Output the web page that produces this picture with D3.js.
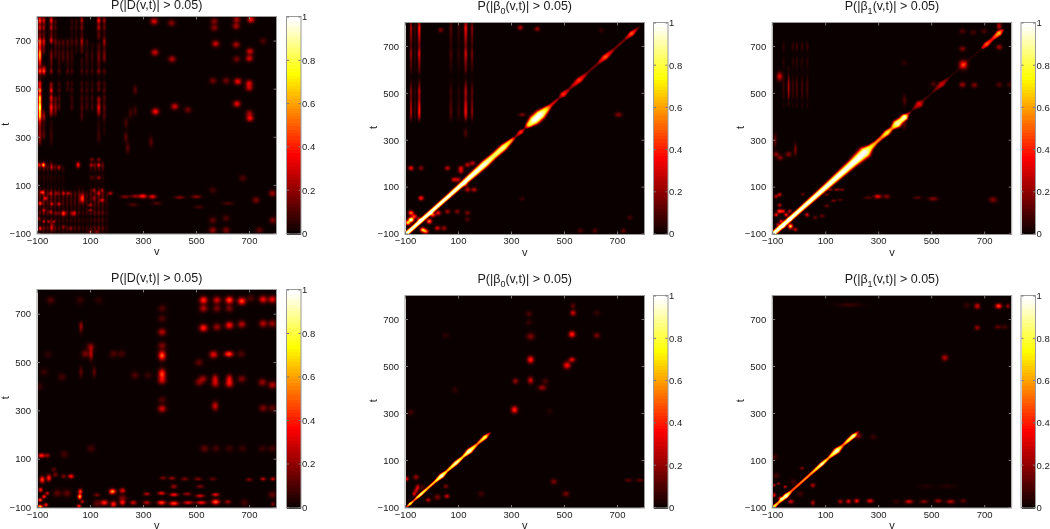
<!DOCTYPE html>
<html><head><meta charset="utf-8">
<script src="https://cdn.jsdelivr.net/npm/d3@7"></script>
<style>
html,body{margin:0;padding:0;background:#fff;overflow:hidden}
#wrap{position:relative;width:1050px;height:529px}
canvas{position:absolute}
svg{position:absolute;left:0;top:0}
text{font-family:"Liberation Sans",Arial,sans-serif;fill:#1a1a1a}
</style></head><body><div id="wrap"></div>
<script>
// Axis ticks
const axisTicks=[-100,100,300,500,700];
const barTicks=[0,0.2,0.4,0.6,0.8,1];

// Hot-spots: [v, t, probability, optional spreadV, optional spreadT]
const spotsD1=[
[-93,650,.35,4,25],[-93,430,.5,4,50],[-78,580,.3,6,12],
[-80,185,.6,5,6],[-97,185,.3,4,6],[-21,175,.25,5,6],[-47,175,.2,5,6],[52,185,.45,5,8],[104,208,.2,5,5],[130,208,.2,5,5],[104,185,.2,5,5],[130,185,.25,5,5],[130,132,.22,5,5],[104,132,.12,5,5],
[-84,71,.5,5,5],[-53,67,.2,5,5],[-28,67,.2,5,5],[-3,67,.25,5,5],[16,67,.25,5,5],[67,46,.5,6,12],[111,80,.22,5,5],[130,67,.25,5,5],[142,80,.2,5,5],[174,67,.3,6,5],[111,46,.2,5,5],[142,39,.3,6,5],
[-91,25,.45,5,5],[-72,46,.4,5,5],[-47,22,.25,5,5],[-21,22,.3,5,5],[-78,-3,.25,5,5],[-53,-10,.2,5,5],[-3,-17,.45,6,7],[35,-17,.35,6,7],[98,18,.25,6,4],[98,-3,.25,6,3],[-28,-17,.15,5,5],
[-97,-37,.2,4,5],[-78,-51,.25,4,4],[-59,-51,.25,4,4],[-40,-51,.25,4,4],[-91,-79,.35,4,5],[-47,-72,.25,5,12],[-3,-72,.15,5,5],[23,-79,.15,5,5],[98,-93,.2,5,5],[123,-93,.2,5,5],
[340,782,.38],[406,775,.22],[343,653,.35],[408,625,.3],[345,407,.45],[418,428,.35],[468,414,.18],[268,497,.15,5,12],
[568,782,.22],[573,689,.35],[568,755,.22],[653,789,.28],[651,762,.28],[651,685,.28],[653,625,.18],[707,789,.42],[703,657,.36],[701,628,.36],[657,532,.42],[563,535,.18],[613,535,.18],[654,439,.4],[700,525,.36],[700,505,.32],[703,379,.42],[701,400,.25],[753,700,.12],
[233,360,.12,5,14],[233,300,.15,5,14],[240,255,.15,5,14],[328,280,.15,5,14],[250,400,.1,5,14],[268,410,.1,5,14],
[230,53,.2,12,5],[268,55,.25,10,5],[297,55,.5,10,6],[334,53,.4,9,6],[437,50,.2,12,5],[500,53,.22,12,5],[350,25,.12,12,5],[260,20,.12,12,5],[510,10,.1,12,5],[620,25,.12,14,5],[726,39,.2],[788,67,.25],[562,-86,.25],[562,-45,.15],[613,-86,.2],[613,-37,.12],[739,-86,.15],[790,-45,.2],[562,80,.1],[676,130,.12]
];
const stripesD1=[
[-93,250,825,.5,4.5],[-78,640,825,.35,4],[-78,280,420,.3,4],[-78,540,600,.28,4],[-50,380,540,.42,4.5],[-50,680,825,.4,4.5],[-50,250,380,.2,4],[-50,540,680,.22,4],[-34,380,480,.22,4],[-34,620,800,.15,4],[-20,400,720,.12,4],[-5,600,720,.13,4],[12,480,720,.13,4],[28,400,800,.1,4],[45,640,800,.12,4],[66,640,825,.28,4],[66,350,640,.12,4],[85,400,720,.1,4],[105,400,700,.1,4],[130,700,825,.42,4.5],[130,380,480,.38,4.5],[130,480,700,.22,4.5],[130,260,380,.2,4.5],[151,600,825,.25,4],[151,300,600,.14,4],
[-93,-125,215,.14,3.5],[-78,-125,215,.18,3.5],[-64,-125,200,.13,3.5],[-50,-125,215,.18,3.5],[-35,-125,200,.14,3.5],[-20,-125,190,.12,3.5],[-5,-125,190,.12,3.5],[10,-125,90,.12,3.5],[25,-125,90,.12,3.5],[40,-125,90,.12,3.5],[55,-125,120,.12,3.5],[70,-125,120,.09,3.5],[85,-125,90,.09,3.5],[100,-125,215,.12,3.5],[115,-125,215,.15,3.5],[130,-125,215,.18,3.5],[145,-125,215,.16,3.5],[160,-125,85,.08,3.5]
];
const rowsD1=[[-100,.5],[-90,.6],[-78,1],[-60,.4],[-45,.8],[-30,.4],[-15,1],[0,.6],[15,.7],[30,.9],[45,.8],[60,1],[75,.9],[90,.4],[105,.3],[120,.4],[135,.5],[150,.3],[170,.8],[185,1],[200,.6],[220,.1],[250,.1],[265,.3],[285,.5],[305,.6],[325,.5],[345,.4],[365,.5],[385,.9],[405,.8],[425,1],[445,.7],[465,.9],[480,.5],[495,.95],[510,.6],[525,.8],[540,.25],[555,.3],[575,1],[590,.55],[610,.7],[630,.85],[650,.8],[670,.55],[690,.9],[700,1],[715,.6],[740,.45],[755,.8],[770,.6],[785,1],[800,.6]];

const spotsB1=[
[-81,181,.4],[-43,181,.2],[57,181,.3],[108,181,.35],[133,195,.3],[152,202,.3],[108,167,.3],[82,132,.35],[97,132,.3],[133,89,.3],[158,89,.3],[126,110,.25],[-43,53,.45],
[-81,-10,.6],[-81,-38,.5],[-50,-38,.35],[-93,-52,.8],[-81,-40,.7],[-69,-25,.5],
[-37,-82,.75],[-12,-46,.6],[1,-18,.55],[22,-10,.4],[-25,-89,.6],[19,-75,.35],[44,-75,.25],[57,-4,.25],[94,-4,.2],[133,-10,.2],[133,-38,.12],
[560,-86,.12],[616,-86,.12],[724,-86,.15],[749,-30,.1],[340,50,.08],[705,409,.2,9,7],[340,409,.2,8,5],[126,330,.12,5,12],[333,780,.3],[397,775,.25],[32,770,.2],[640,770,.08]
];
const stripesB1=[[-81,370,825,.28,3],[-50,370,825,.42,3.5],[-66,370,825,.07,3],[70,370,825,.12,4],[100,370,825,.07,4],[126,370,825,.4,4],[150,370,825,.22,3]];
const rowsB1=[[360,.1],[380,.5],[400,.8],[420,1],[450,.9],[480,.7],[510,.8],[540,.5],[570,.15],[600,.5],[640,.7],[670,.9],[700,.6],[740,.8],[780,1],[800,.7]];
const ridgeB1=[[-100,1,8],[-60,1,8],[0,1,8],[50,1,8],[100,1,9],[150,1,11],[200,.98,13],[230,.85,11],[270,.9,12],[300,.6,7],[315,.15,4],[335,.45,8],[350,.1,4],[365,.75,11],[385,1,18],[410,1,18],[430,.75,12],[450,.35,6],[470,.25,5],[480,.12,4],[495,.45,10],[520,.15,5],[556,.45,10],[590,.12,5],[625,.15,5],[655,.5,10],[690,.15,5],[730,.15,5],[755,.5,9],[780,.1,4],[790,0,3]];

const spotsB2=[
[-75,572,.35,7,12],[621,622,.5,10,12],[659,760,.1],[618,690,.2],[618,765,.12],[700,765,.1],[757,786,.3,6,10],[757,697,.25],[508,540,.12],[618,537,.25],[663,535,.2],[757,537,.12],[797,537,.1],[398,470,.12,5,15],[398,370,.12,5,15],[398,630,.06],
[-92,300,.15,4,18],[-88,240,.2],[-73,225,.2],[-41,240,.2],[-15,260,.2,4,16],
[260,55,.12,10,5],[297,60,.4,9,6],[331,60,.22,8,6],[447,55,.12,10,5],[507,50,.2,12,6],[734,46,.2,10,8],[13,70,.15,5,5],
[117,89,.2,6,4],[142,89,.25,6,4],[161,89,.2,6,4],[104,68,.15,6,4],[130,42,.2,6,4],[155,46,.12,6,4],[60,-30,.15,6,5],[86,-23,.15,6,5],[104,20,.15,6,5],
[-75,-3,.5,6,6],[-88,60,.3,5,5],[-75,68,.35,5,5],[-62,-3,.4,5,5],[-50,-18,.45,5,5],[-69,-46,.4,5,5],[-88,-18,.4,5,5],[-37,-3,.3,5,5],[-34,-67,.8,6,7],[-15,-81,.35,5,5],[-60,-67,.35,5,5],[29,-18,.35,5,6],[-75,23,.3,5,5],[-37,-38,.35,5,5],[-81,-60,.3,5,5]
];
const stripesB2=[[-41,440,620,.25,3],[-60,430,740,.07,3],[-25,430,740,.08,3],[-10,430,740,.1,3],[10,430,740,.09,3],[30,430,740,.09,3]];
const rowsB2=[[425,.1],[442,.9],[465,.3],[487,.8],[516,1],[544,1],[590,.3],[636,.8],[670,.25],[700,1],[730,.25],[745,.05],[800,.05]];
const ridgeB2=[[-100,1,9],[0,1,9],[100,1,11],[150,1,13],[200,1,15],[250,1,21],[270,.75,11],[290,.6,7],[310,.55,7],[331,.8,10],[350,.55,7],[369,.95,15],[385,.85,11],[400,.95,12],[412,.3,5],[425,.05,3],[440,.2,8],[455,.35,13],[470,.1,5],[500,.05,3],[539,.3,10],[570,.05,3],[690,.05,3],[695,.3,6],[709,.5,9],[730,.35,6],[757,.65,10],[770,.3,5],[775,0,3]];

const spotsD2=[
[527,758,.5],[578,758,.35],[625,758,.55],[672,754,.55],[753,761,.4],[788,761,.4],[706,765,.12],[527,724,.3],[578,724,.2],[625,724,.2],
[527,643,.5],[578,647,.25],[625,654,.45],[672,658,.3],[753,661,.3],[788,661,.25],
[370,529,.6,9,13],[565,533,.4],[623,535,.55,11,8],[670,536,.12],
[370,452,.55,9,14],[370,425,.3],[370,626,.3],[370,570,.2],[370,724,.12],[370,682,.12],[370,309,.35],[370,345,.12],
[510,418,.2],[525,432,.25],[571,432,.35,8,12],[572,411,.25],[625,432,.4,8,12],[625,411,.35],[672,432,.2],[750,418,.25],[788,407,.3],[510,500,.15],
[571,320,.35,8,12],[753,311,.2],[788,311,.15],
[63,640,.15,5,14],[63,655,.15,5,10],[101,536,.3,5,18],[80,536,.2],[99,565,.2],[63,461,.15,5,14],[113,461,.15,5,14],[186,536,.12],[217,536,.1],[-9,440,.1],[267,447,.12],[317,447,.08],[-52,758,.12],[-77,461,.08],[-96,400,.08],[60,758,.08],[130,758,.06],[-62,532,.06],
[531,144,.15],[575,144,.1],[625,144,.08],[675,144,.08],[101,144,.1],[750,144,.08],[788,144,.1],
[-87,115,.5,8,6],[-65,115,.25,7,6],[0,120,.1],
[-84,15,.55,6,9],[-59,22,.5,6,9],[-34,36,.2,6,6],[25,29,.45,7,6],[-3,29,.2,6,6],[-40,57,.15,6,6],[-90,-27,.5,5,6],[-77,-55,.5,5,5],[-92,-69,.6,5,5],[-65,-41,.35,5,5],[-92,-96,.8,6,5],[-70,-89,.45,5,5],[-27,-41,.15],[10,-41,.15],[60,-34,.55,5,7],[58,-55,.8,5,7],[55,-94,.5,5,5],[68,-76,.3,5,5],
[123,-83,.15],[151,-80,.5,9,7],[186,-86,.5,7,8],[220,-80,.45,7,7],[261,-80,.35,8,6],[312,-80,.3,9,6],[368,-80,.55,10,6],[415,-83,.55,11,6],[469,-80,.4,12,5],[519,-80,.45,12,5],[573,-77,.6,10,7],[619,-77,.25,8,6],[682,-80,.1],[790,-86,.2,5,6],
[123,-48,.2,8,5],[182,-34,.75,8,7],[220,-30,.4,7,7],[312,-44,.3,8,5],[368,-41,.4,9,5],[415,-47,.45,10,5],[465,-44,.25,10,5],[514,-52,.35,11,5],[573,-47,.4,9,5],[220,-62,.2],
[374,22,.2,8,5],[408,21,.25,8,5],[456,18,.2,9,5],[506,18,.2,9,5],[562,18,.15,9,5],[700,15,.2,8,5],[753,18,.3,7,5],[790,18,.35,6,5],[788,-47,.15],[415,-13,.25,8,6],[514,-13,.2,9,5]
];

const spotsB01=[
[311,316,.5,8,10],[315,438,.25,7,8],[372,529,.5,8,10],[372,441,.35,7,10],[372,628,.2,10,10],[366,724,.12],[366,688,.08],[416,410,.25,10,8],[428,437,.12],
[529,637,.5,8,9],[533,728,.35,7,8],[533,758,.15,6,8],[529,529,.4,8,7],[510,505,.45,9,10],[623,632,.2,8,8],[623,728,.08],[460,10,.2],[506,-42,.2],[742,16,.15,9,5],[786,16,.15,9,5],
[185,-42,.1],[50,632,.06],[-83,305,.1],[86,400,.07],[444,310,.05],
[-96,22,.4,4,6],[-62,29,.25,7,7],[-56,-14,.35,5,8],[-69,-42,.35,5,7],[-62,-28,.3,5,7],[-16,-68,.3,6,6],[19,-56,.2],[55,-52,.35,6,6],[51,-10,.2,6,6],[-38,-14,.1]
];
const ridgeB01=[[-100,.2,3],[-85,.85,5],[-70,.45,4],[-45,.9,6],[-20,.65,5],[10,.7,5],[35,1,9],[55,.65,5],[90,.95,8],[115,.7,5],[140,1,10],[170,.55,5],[200,.85,8],[215,.3,4],[222,0,3]];

const spotsB11=[
[674,757,.35,7,8],[755,757,.55,8,7],[790,757,.25,5,6],[674,665,.25,7,7],[752,668,.15,8,6],[777,668,.1,8,6],[551,537,.3,8,9],[634,760,.08],[190,762,.08,30,6],[10,67,.2,5,5],
[-32,-75,.35,7,6],[51,-80,.3,5,7],[51,-6,.3,6,6],[155,-75,.3,6,6],[186,-74,.4,6,6],[217,-72,.45,6,6],[268,-72,.4,8,6],[367,-75,.08,9,6],[415,-75,.35,10,6],[472,-75,.2,10,6],[526,-72,.25,9,6],[573,-75,.3,10,6],[621,-72,.15,8,6],
[-95,-5,.3,4,4],[-79,2,.25,4,4],[-54,-12,.35,4,4],[-95,-47,.4,4,6],[-72,-61,.5,5,5],[-88,35,.1],[-22,8,.1],[3,-42,.1],[-95,115,.1],[220,205,.25,10,8],[280,200,.08,8,8],[480,-10,.04,20,6],[560,-10,.05,20,6]
];
const ridgeB11=[[-100,.85,7],[-80,.6,5],[-50,1,9],[-30,.5,5],[0,.55,5],[15,.6,5],[40,.6,5],[60,.7,6],[85,.95,7],[110,.6,5],[142,1,11],[165,.5,5],[185,.8,7],[205,.9,8],[220,.25,4],[228,0,3]];

// Colormap anchors (MATLAB "hot")
const hotStops=[0,.365,.746,1];
const hotColors=["#0b0000","#ff0000","#ffff00","#ffffff"];
const hot=d3.scaleLinear().domain(hotStops).range(hotColors).clamp(true);

const W=1050,H=529;
const panels=[
 {sym:"D",sub:"",fx:37.5,w:238.5,top:17,bot:233.5,bar:287,titleY:9,spots:spotsD1,stripes:stripesD1,rows:rowsD1,ridge:[],sv:9,st:9,rw:1,k:.85},
 {sym:"β",sub:"0",fx:405.5,w:238.5,top:23,bot:234,bar:654,titleY:10,spots:spotsB1,stripes:stripesB1,rows:rowsB1,ridge:ridgeB1,sv:6.5,st:6.5,rw:1.5,k:.9},
 {sym:"β",sub:"1",fx:772.7,w:238.5,top:23,bot:234,bar:1021.5,titleY:10,spots:spotsB2,stripes:stripesB2,rows:rowsB2,ridge:ridgeB2,sv:7.5,st:7.5,rw:1.5,k:.9},
 {sym:"D",sub:"",fx:37.5,w:238.5,top:290,bot:507.5,bar:287,titleY:282,spots:spotsD2,stripes:[],rows:[],ridge:[],sv:10,st:10,rw:1,k:.85},
 {sym:"β",sub:"0",fx:405.5,w:238.5,top:296,bot:507.5,bar:654,titleY:283,spots:spotsB01,stripes:[],rows:[],ridge:ridgeB01,sv:8,st:8,rw:1.45,k:.85},
 {sym:"β",sub:"1",fx:772.7,w:238.5,top:296,bot:507.5,bar:1021.5,titleY:283,spots:spotsB11,stripes:[],rows:[],ridge:ridgeB11,sv:8,st:8,rw:1.45,k:.85}
];

const wrap=d3.select("#wrap");
const svg=wrap.append("svg").attr("width",W).attr("height",H);

function field(p,x,y,cw,ch){
  const vals=new Float32Array(cw*ch);
  const vAt=d3.range(cw).map(i=>x.invert(i+.5));
  const tAt=d3.range(ch).map(j=>y.invert(j+.5));
  const gain=p.rows.length?d3.scaleLinear().domain(p.rows.map(r=>r[0])).range(p.rows.map(r=>r[1])).clamp(true):null;
  const rv=p.ridge.map(r=>r[0]);
  const rp=d3.scaleLinear().domain(rv).range(p.ridge.map(r=>r[1])).clamp(true);
  const rw=d3.scaleLinear().domain(rv).range(p.ridge.map(r=>r[2])).clamp(true);
  const add=(j,i,a)=>{vals[j*cw+i]+=a;};
  p.spots.forEach(s=>{
    const sv=s[3]||p.sv,st=s[4]||p.st;
    const i0=Math.max(0,Math.floor(x(s[0]-4*sv))),i1=Math.min(cw-1,Math.ceil(x(s[0]+4*sv)));
    const j0=Math.max(0,Math.floor(y(s[1]+4*st))),j1=Math.min(ch-1,Math.ceil(y(s[1]-4*st)));
    for(let j=j0;j<=j1;j++)for(let i=i0;i<=i1;i++){
      const a=(vAt[i]-s[0])/sv,b=(tAt[j]-s[1])/st;
      add(j,i,p.k*s[2]*Math.exp(-.5*(a*a+b*b)));
    }
  });
  p.stripes.forEach(s=>{
    const [v0,t0,t1,pk,sv]=s;
    const i0=Math.max(0,Math.floor(x(v0-4*sv))),i1=Math.min(cw-1,Math.ceil(x(v0+4*sv)));
    for(let j=0;j<ch;j++){
      const t=tAt[j]; if(t<t0||t>t1)continue;
      const edge=Math.min(1,(t-t0)/25,(t1-t)/25);
      const g=(gain?Math.pow(gain(t),1.7):1)*edge;
      for(let i=i0;i<=i1;i++){const a=(vAt[i]-v0)/sv;add(j,i,pk*g*Math.exp(-.5*a*a));}
    }
  });
  if(p.ridge.length){
    for(let j=0;j<ch;j++)for(let i=0;i<cw;i++){
      const v=vAt[i],t=tAt[j];
      const m=(v+t)/2;
      if(m<rv[0]-12||m>rv[rv.length-1])continue;
      const d=Math.abs(t-v);
      if(d>90)continue;
      const w=rw(m);
      add(j,i,rp(m)*Math.exp(-Math.pow(d/(w*p.rw),3.2)));
    }
  }
  return vals;
}

panels.forEach(p=>{
  const x=d3.scaleLinear().domain([-100,800]).range([0,p.w]);
  const y=d3.scaleLinear().domain([800,-100]).range([0,p.bot-p.top]);
  const cw=Math.round(p.w),ch=Math.round(p.bot-p.top);
  const canvas=wrap.insert("canvas","svg").attr("width",cw).attr("height",ch)
    .style("left",p.fx+"px").style("top",p.top+"px").style("width",p.w+"px").style("height",(p.bot-p.top)+"px");
  const ctx=canvas.node().getContext("2d");
  const vals=field(p,x,y,cw,ch);
  const img=ctx.createImageData(cw,ch);
  for(let k=0;k<vals.length;k++){
    const c=d3.rgb(hot(Math.min(1,vals[k])));
    img.data[k*4]=c.r;img.data[k*4+1]=c.g;img.data[k*4+2]=c.b;img.data[k*4+3]=255;
  }
  ctx.putImageData(img,0,0);

  const g=svg.append("g").attr("transform",`translate(${p.fx},${p.top})`);
  const ih=p.bot-p.top;
  const tick=2.5;
  g.append("rect").attr("x",-.5).attr("y",-.5).attr("width",p.w+1).attr("height",ih+1).attr("fill","none").attr("stroke","#9a9a9a").attr("stroke-width",1);
  axisTicks.forEach(v=>{
    g.append("line").attr("x1",x(v)).attr("x2",x(v)).attr("y1",ih).attr("y2",ih-tick).attr("stroke","#777");
    g.append("line").attr("x1",x(v)).attr("x2",x(v)).attr("y1",0).attr("y2",tick).attr("stroke","#777");
    g.append("line").attr("x1",0).attr("x2",tick).attr("y1",y(v)).attr("y2",y(v)).attr("stroke","#777");
    g.append("line").attr("x1",p.w).attr("x2",p.w-tick).attr("y1",y(v)).attr("y2",y(v)).attr("stroke","#777");
    const lab=d3.format("d")(v).replace("-","\u2212");
    g.append("text").attr("x",x(v)).attr("y",ih+10).attr("text-anchor","middle").attr("font-size",9.5).text(lab);
    g.append("text").attr("x",-6.5).attr("y",y(v)+3.3).attr("text-anchor","end").attr("font-size",9.5).text(lab);
  });
  g.append("text").attr("x",p.w/2).attr("y",ih+21.5).attr("text-anchor","middle").attr("font-size",11).text("v");
  g.append("text").attr("transform",`translate(-28.5,${ih/2-1}) rotate(-90)`).attr("text-anchor","middle").attr("font-size",11).text("t");

  const ti=svg.append("text").attr("x",p.fx+p.w/2).attr("y",p.titleY).attr("text-anchor","middle").attr("font-size",12.5);
  ti.append("tspan").text("P(|"+p.sym);
  if(p.sub){ti.append("tspan").attr("dy",3.5).attr("font-size",9).text(p.sub);ti.append("tspan").attr("dy",-3.5).text("(v,t)| > 0.05)");}
  else ti.append("tspan").text("(v,t)| > 0.05)");

  // colour bar
  const bw=13.5;
  const cy=d3.scaleLinear().domain([0,1]).range([ih,0]);
  const b=svg.append("g").attr("transform",`translate(${p.bar},${p.top})`);
  b.selectAll("rect.lvl").data(d3.range(64)).join("rect").attr("class","lvl")
    .attr("x",0).attr("width",bw).attr("y",d=>cy((d+1)/64)).attr("height",d=>cy(d/64)-cy((d+1)/64)+1)
    .attr("shape-rendering","crispEdges").attr("fill",d=>hot(d/63));
  b.append("rect").attr("x",-.5).attr("y",-.5).attr("width",bw+1).attr("height",ih+1).attr("fill","none").attr("stroke","#9a9a9a");
  barTicks.forEach(v=>{
    b.append("line").attr("x1",0).attr("x2",2).attr("y1",cy(v)).attr("y2",cy(v)).attr("stroke","#777");
    b.append("line").attr("x1",bw).attr("x2",bw-2).attr("y1",cy(v)).attr("y2",cy(v)).attr("stroke","#777");
    b.append("text").attr("x",bw+1.5).attr("y",cy(v)+3.3).attr("font-size",9.5).text(d3.format("")(v));
  });
});
</script></body></html>
